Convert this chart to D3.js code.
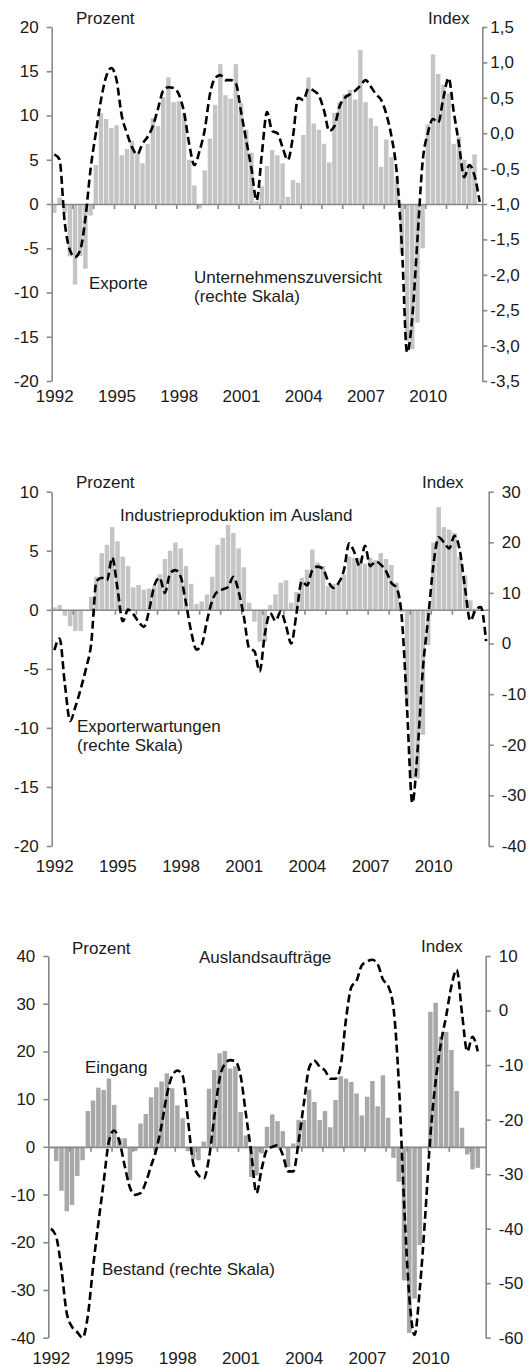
<!DOCTYPE html>
<html>
<head>
<meta charset="utf-8">
<script src="https://cdn.jsdelivr.net/npm/d3@7"></script>
<style>
  body { margin: 0; background: #fff; }
  svg text { font-family: "Liberation Sans", Arial, sans-serif; font-size: 17px; fill: #1a1a1a; }
</style>
</head>
<body>
<svg id="chart" width="529" height="1367"></svg>
<script>
// Quartale 1992Q1 bis 2012Q3
var quarters = d3.range(83).map(function(i){
    return (1992 + Math.floor(i / 4)) + "Q" + (i % 4 + 1);
});
var yearLabels = [1992, 1995, 1998, 2001, 2004, 2007, 2010];
var yearTicks = d3.range(1993, 2013);

// Panel 1: Exporte (Prozent) und Unternehmenszuversicht (Index)
var exporte = [-1.0, 0.7, -1.0, -5.9, -9.1, -5.9, -7.3, -1.3,
    4.4, 10.3, 9.6, 8.6, 8.9, 5.5, 6.2, 7.1,
    5.7, 4.6, 6.8, 9.7, 8.8, 12.1, 14.3, 11.5,
    11.6, 10.2, 5.0, 2.1, -0.5, 3.8, 7.4, 11.2,
    15.8, 12.3, 11.9, 15.8, 11.4, 8.4, 5.8, 0.3,
    2.0, 4.3, 6.1, 5.5, 4.6, 0.8, 2.7, 2.4,
    7.8, 14.3, 9.1, 8.4, 6.8, 4.7, 10.3, 11.5,
    12.4, 12.9, 11.8, 17.4, 11.5, 9.7, 8.8, 4.2,
    7.3, 5.3, 3.0, -5.6, -15.5, -16.4, -13.4, -5.0,
    9.0, 16.9, 14.7, 13.5, 12.5, 6.8, 7.6, 5.0,
    4.3, 5.6, null];
var zuversicht = [-0.3, -0.37, -1.25, -1.65, -1.75, -1.65, -1.2, -0.5,
    0.0, 0.47, 0.8, 0.92, 0.75, 0.25, 0.0, -0.2,
    -0.3, -0.15, -0.05, 0.1, 0.35, 0.6, 0.65, 0.64,
    0.55, 0.3, -0.15, -0.45, -0.25, 0.05, 0.55, 0.78,
    0.82, 0.75, 0.75, 0.7, 0.3, -0.1, -0.5, -0.95,
    -0.3, 0.3, 0.03, 0.0, -0.2, -0.38, -0.05, 0.5,
    0.47, 0.63, 0.6, 0.53, 0.32, 0.03, 0.1, 0.38,
    0.5, 0.55, 0.6, 0.67, 0.75, 0.66, 0.55, 0.47,
    0.27, -0.05, -0.55, -1.6, -3.1, -2.6, -1.5, -0.4,
    0.0, 0.2, 0.15, 0.5, 0.78, 0.3, -0.15, -0.62,
    -0.45, -0.6, -0.97];

// Panel 2: Industrieproduktion im Ausland (Prozent) und Exporterwartungen (Index)
var industrie = [0.2, 0.4, -0.5, -1.4, -1.8, -1.8, -0.1, 1.1,
    2.8, 4.8, 5.5, 7.0, 5.8, 4.5, 3.7, 1.9,
    2.1, 1.7, 1.8, 2.0, 3.0, 4.3, 5.0, 5.7,
    5.2, 3.7, 2.2, 0.5, 0.7, 1.3, 2.8, 5.5,
    6.1, 7.2, 6.5, 5.2, 3.6, 0.6, -1.0, -2.7,
    -2.7, 0.4, 1.3, 2.3, 2.5, 0.6, 1.5, 2.7,
    3.4, 5.1, 4.0, 3.7, 2.0, 2.2, 2.2, 3.0,
    4.5, 4.4, 4.4, 3.9, 4.4, 4.2, 4.8, 4.3,
    3.8, 2.3, -0.2, -8.2, -14.3, -14.3, -10.6, -3.0,
    5.7, 8.7, 7.0, 6.8, 6.5, 4.5, 2.9, 0.8,
    0.1, 0.0, null];
var erwartungen = [-1.3, 1.0, -8, -15.3, -12.5, -9, -5, 0,
    12.3, 13.0, 12.5, 17.0, 10.8, 4.4, 6.7, 5.8,
    4.3, 3.3, 6.5, 11.5, 13.0, 10.0, 13.9, 14.5,
    13.2, 8.0, 2.3, -1.2, -0.2, 4.5, 8.5, 10.3,
    10.7, 11.2, 13.2, 10.3, 5.3, -0.9, -1.5, -5.5,
    2.0, 6.0, 4.5, 6.3, 3.5, 0.0, 6.0, 12.3,
    11.5, 14.5, 15.2, 14.8, 12.3, 11.0, 12.0, 14.5,
    19.8, 18.0, 15.3, 19.3, 15.3, 16.2, 15.6, 14.3,
    12.0, 11.0, 5.0, -13, -31.5, -21, -5, 5.0,
    15.5, 21.0, 20.0, 18.8, 21.3, 18.5, 11, 4.5,
    6.6, 7.2, 0.5];

// Panel 3: Auslandsauftraege Eingang (Prozent) und Bestand (Index)
var eingang = [-0.3, -3.0, -9.2, -13.5, -12.2, -6.1, -2.8, 7.5,
    9.7, 12.4, 11.9, 14.3, 8.8, 1.8, 1.8, -7.0,
    -0.9, 4.9, 6.9, 10.4, 12.5, 13.7, 15.4, 12.3,
    8.7, 6.0, -0.9, -2.6, -2.8, 1.1, 12.2, 16.1,
    19.6, 20.1, 16.4, 16.9, 7.3, 2.4, -6.3, -6.0,
    -1.4, 4.2, 6.8, 5.4, 3.3, -4.2, 0.7, 5.6,
    5.6, 12.0, 9.4, 5.6, 7.5, 4.1, 9.8, 14.8,
    14.3, 13.6, 11.2, 6.6, 10.5, 13.8, 8.5, 15.0,
    6.1, -2.3, -7.3, -28, -39, -31.8, -20.6, 0,
    28.3, 30.2, 23.1, 24.1, 20.3, 11.7, 4.0, -1.6,
    -4.7, -4.4, null];
var bestand = [-40, -41.5, -47.5, -55.5, -58, -59, -60, -56,
    -47, -39, -31.5, -24, -22, -24, -28.5, -32.5,
    -33.8, -33.5, -31.5, -28.5, -25.5, -21, -15.5, -12,
    -11, -12, -20, -28, -30.2, -30.8, -27, -19.5,
    -12.5, -9.8, -9.1, -9.3, -12, -19, -26, -33.5,
    -29, -25.5, -25, -24.7, -26.5, -29.5, -29.5, -24,
    -17, -10.5, -9.2, -10.3, -11, -12.5, -12.5, -10,
    -1.5, 4.3, 5.5, 8.3, 9.0, 9.3, 8.5, 5.7,
    4.5, 0.5, -13, -35, -52.5, -59.5, -51, -38,
    -23, -13, -6, -1, 4.5, 7.5, -0.5, -7.5,
    -4.8, -7.5];

var ticks1L = [-20, -15, -10, -5, 0, 5, 10, 15, 20];
var ticks1R = [-3.5, -3.0, -2.5, -2.0, -1.5, -1.0, -0.5, 0.0, 0.5, 1.0, 1.5];
var ticks2L = [-20, -15, -10, -5, 0, 5, 10];
var ticks2R = [-40, -30, -20, -10, 0, 10, 20, 30];
var ticks3L = [-40, -30, -20, -10, 0, 10, 20, 30, 40];
var ticks3R = [-60, -50, -40, -30, -20, -10, 0, 10];

var svg = d3.select("#chart");
var axisGrey = "#898989";

function plain(d){ return String(d); }
function komma(d){ return d.toFixed(1).replace(".", ","); }

function addText(g, x, y, str){
    g.append("text").attr("x", x).attr("y", y).text(str);
}

function drawPanel(p){
    var g = svg.append("g");

    var x = d3.scaleBand()
        .domain(d3.range(quarters.length))
        .range([p.left, p.right])
        .paddingInner(0.15)
        .paddingOuter(0.075);
    var xYear = d3.scaleLinear()
        .domain([1992, 1992 + quarters.length / 4])
        .range([p.left, p.right]);
    var yL = d3.scaleLinear().domain(p.domL).range([p.bottom, p.top]);
    var yR = d3.scaleLinear().domain(p.domR).range([p.bottom, p.top]);

    // Balken
    g.append("g").selectAll("rect")
        .data(p.bars.map(function(v, i){ return {i: i, v: v}; })
                    .filter(function(d){ return d.v !== null; }))
        .enter()
        .append("rect")
            .attr("x", function(d){ return x(d.i); })
            .attr("width", x.bandwidth())
            .attr("y", function(d){ return yL(Math.max(0, d.v)); })
            .attr("height", function(d){ return Math.abs(yL(d.v) - yL(0)); })
            .attr("fill", p.barColor);

    // Achsen
    var left = g.append("g")
        .attr("transform", "translate(" + p.left + ",0)")
        .call(d3.axisLeft(yL).tickValues(p.ticksL).tickFormat(plain)
              .tickSize(5).tickSizeOuter(0).tickPadding(8));
    var right = g.append("g")
        .attr("transform", "translate(" + p.right + ",0)")
        .call(d3.axisRight(yR).tickValues(p.ticksR).tickFormat(p.fmtR)
              .tickSize(5).tickSizeOuter(0).tickPadding(p.padR));
    var bottom = g.append("g")
        .attr("transform", "translate(0," + yL(0) + ")")
        .call(d3.axisBottom(xYear).tickValues(yearTicks).tickFormat("")
              .tickSize(5).tickSizeOuter(0));

    [left, right, bottom].forEach(function(a){
        a.attr("font-size", null).attr("font-family", null);
        a.selectAll("path, line").attr("stroke", axisGrey).attr("stroke-width", 1.6);
        a.selectAll("text").attr("fill", "#1a1a1a");
    });

    // Jahreszahlen
    g.append("g").selectAll("text")
        .data(yearLabels)
        .enter()
        .append("text")
            .attr("x", function(d){ return xYear(d) + 3; })
            .attr("y", p.yearY)
            .attr("text-anchor", "middle")
            .text(function(d){ return d; });

    // Linie (rechte Skala)
    var line = d3.line()
        .x(function(d, i){ return x(i) + x.bandwidth() / 2; })
        .y(function(d){ return yR(d); })
        .curve(d3.curveMonotoneX);
    g.append("path")
        .datum(p.line)
        .attr("d", line)
        .attr("fill", "none")
        .attr("stroke", "#000")
        .attr("stroke-width", 2.6)
        .attr("stroke-dasharray", "8,4");

    p.texts.forEach(function(t){ addText(g, t[0], t[1], t[2]); });
}

drawPanel({
    left: 51.7, right: 482.3, top: 27, bottom: 381,
    domL: [-20, 20], domR: [-3.5, 1.5],
    ticksL: ticks1L, ticksR: ticks1R, fmtR: komma, padR: 3,
    bars: exporte, line: zuversicht, barColor: "#c4c4c4",
    yearY: 401.5,
    texts: [[76, 23.5, "Prozent"], [428, 24, "Index"], [89, 289, "Exporte"],
            [194, 283, "Unternehmenszuversicht"], [194, 302, "(rechte Skala)"]]
});

drawPanel({
    left: 51.7, right: 488.7, top: 491.7, bottom: 846,
    domL: [-20, 10], domR: [-40, 30],
    ticksL: ticks2L, ticksR: ticks2R, fmtR: plain, padR: 8,
    bars: industrie, line: erwartungen, barColor: "#c4c4c4",
    yearY: 872,
    texts: [[76, 488, "Prozent"], [422, 488, "Index"],
            [120, 521, "Industrieproduktion im Ausland"],
            [77, 731.5, "Exporterwartungen"], [77, 750.5, "(rechte Skala)"]]
});

drawPanel({
    left: 48.3, right: 485.7, top: 956, bottom: 1337.7,
    domL: [-40, 40], domR: [-60, 10],
    ticksL: ticks3L, ticksR: ticks3R, fmtR: plain, padR: 8,
    bars: eingang, line: bestand, barColor: "#a8a8a8",
    yearY: 1364,
    texts: [[72, 954, "Prozent"], [421, 952, "Index"],
            [199, 963, "Auslandsaufträge"], [85, 1073, "Eingang"],
            [102, 1275, "Bestand (rechte Skala)"]]
});
</script>
</body>
</html>
